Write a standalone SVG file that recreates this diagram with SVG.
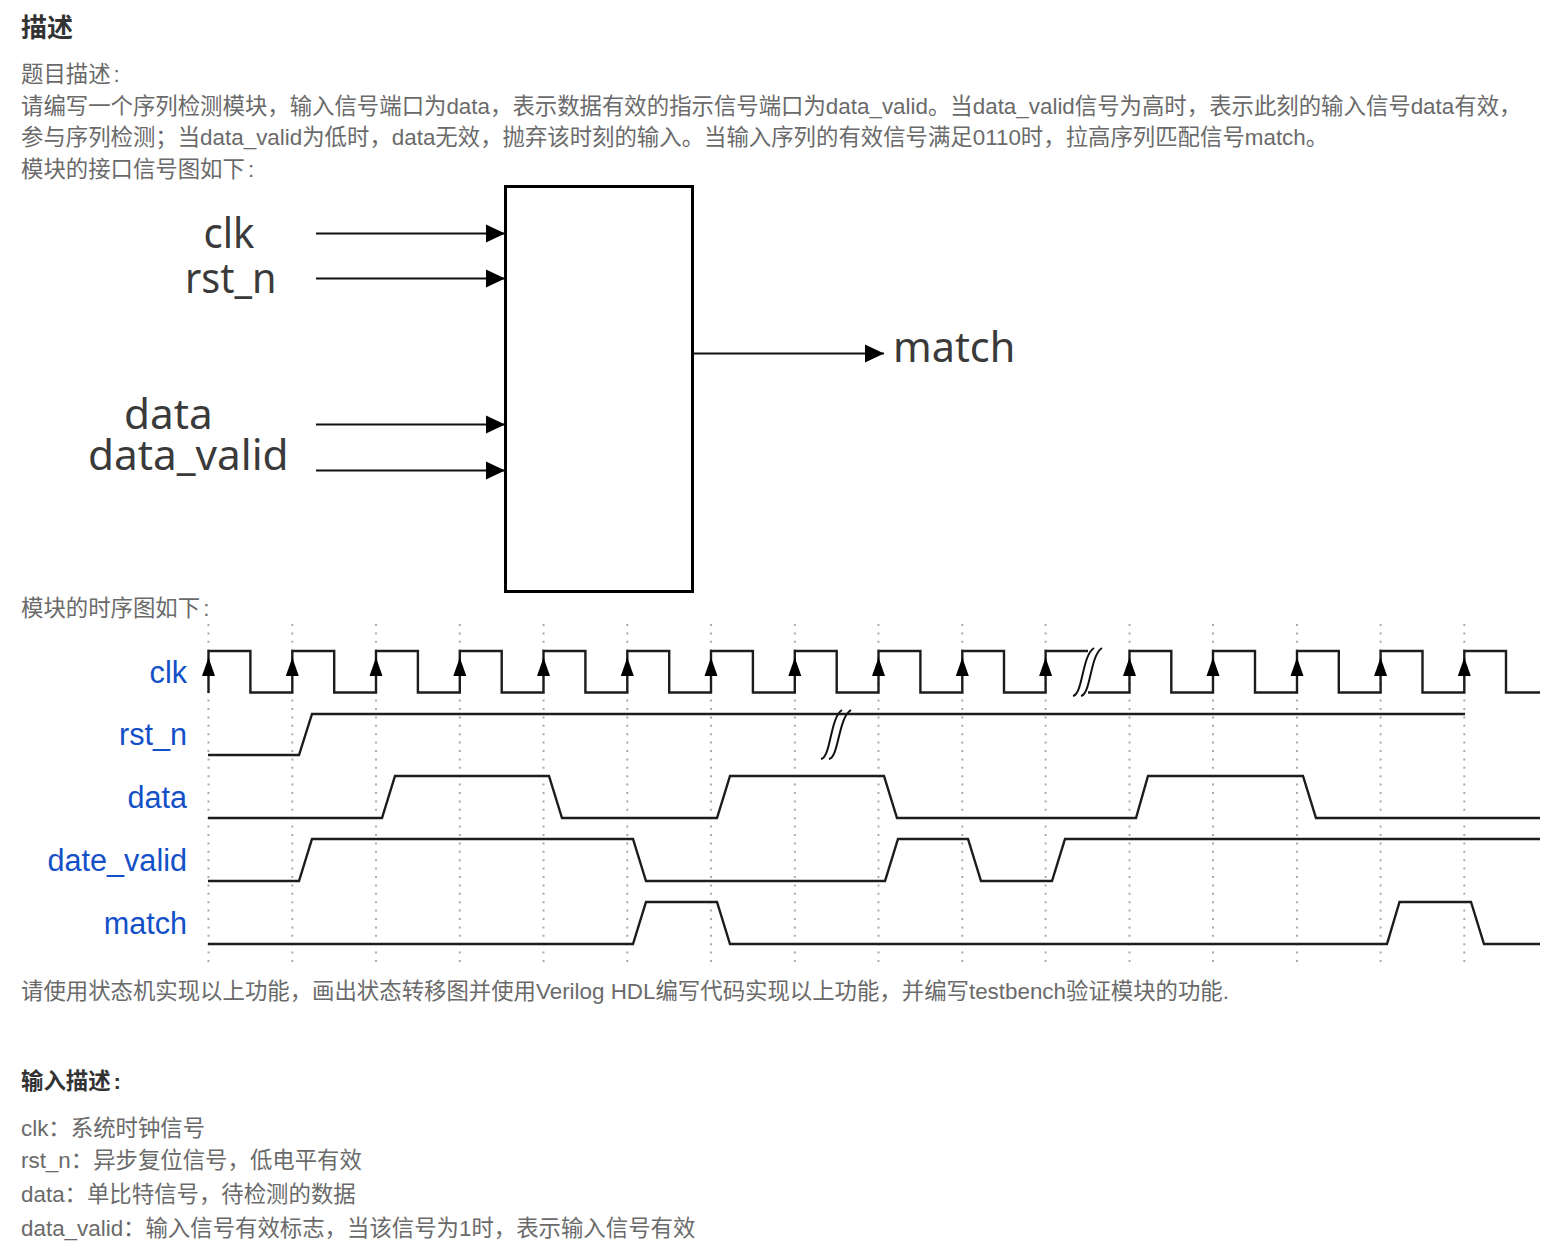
<svg xmlns="http://www.w3.org/2000/svg" width="1563" height="1251" viewBox="0 0 1563 1251">
<style>
text{font-family:"Liberation Sans","Noto Sans CJK SC",sans-serif}
.p{font-size:22.4px;fill:#6a6a6a}
.h{font-size:26px;font-weight:bold;fill:#333}
.b{font-size:22.4px;font-weight:bold;fill:#333}
.s{font-family:"Noto Sans","Open Sans",sans-serif;font-size:42.3px;fill:#3a3a3a}
.t{font-size:30.6px;fill:#1350c8;text-anchor:end}
.w{fill:none;stroke:#1c1c1c;stroke-width:2.4}
.g{fill:none;stroke:#aaa;stroke-width:2;stroke-dasharray:2 6.4}
.c{fill:none;stroke:#111;stroke-width:1.8}
.br{fill:none;stroke:#111;stroke-width:2}
</style>
<defs>
<marker id="ah" markerUnits="userSpaceOnUse" markerWidth="20" markerHeight="20" refX="19" refY="10" orient="auto"><path d="M0 1L19 10L0 19Z" fill="#000"/></marker>
<path id="up" d="M0 -18.500L6.500 0H-6.500Z" fill="#000"/>
</defs>
<rect width="1563" height="1251" fill="#fff"/>
<g id="text">
<text class="h" x="21" y="37">描述</text>
<text class="p" x="21" y="82">题目描述<tspan dx="3">:</tspan></text>
<text class="p" x="21" y="114">请编写一个序列检测模块，输入信号端口为data，表示数据有效的指示信号端口为data_valid。当data_valid信号为高时，表示此刻的输入信号data有效，</text>
<text class="p" x="21" y="145">参与序列检测；当data_valid为低时，data无效，抛弃该时刻的输入。当输入序列的有效信号满足0110时，拉高序列匹配信号match。</text>
<text class="p" x="21" y="177">模块的接口信号图如下<tspan dx="3">:</tspan></text>
<text class="p" x="21" y="616">模块的时序图如下<tspan dx="3">:</tspan></text>
<text class="p" x="21" y="999">请使用状态机实现以上功能，画出状态转移图并使用Verilog HDL编写代码实现以上功能，并编写testbench验证模块的功能.</text>
<text class="b" x="21" y="1089">输入描述<tspan dx="3">:</tspan></text>
<text class="p" x="21" y="1136">clk：系统时钟信号</text>
<text class="p" x="21" y="1168">rst_n：异步复位信号，低电平有效</text>
<text class="p" x="21" y="1202">data：单比特信号，待检测的数据</text>
<text class="p" x="21" y="1236">data_valid：输入信号有效标志，当该信号为1时，表示输入信号有效</text>
</g>
<g id="node-module"><rect x="505.500" y="186.500" width="187" height="405" fill="#fff" stroke="#000" stroke-width="3"/></g>
<g id="port-labels">
<text class="s" x="203.500" y="248" textLength="51" lengthAdjust="spacingAndGlyphs">clk</text>
<text class="s" x="185" y="293" textLength="91.500" lengthAdjust="spacingAndGlyphs">rst_n</text>
<text class="s" x="124" y="428.500">data</text>
<text class="s" x="88" y="470">data_valid</text>
<text class="s" x="893" y="361.500" style="font-size:41.400px">match</text>
</g>
<g id="connectors">
<path class="c" marker-end="url(#ah)" d="M316 233.500H505"/>
<path class="c" marker-end="url(#ah)" d="M316 278.500H505"/>
<path class="c" marker-end="url(#ah)" d="M316 424.500H505"/>
<path class="c" marker-end="url(#ah)" d="M316 470.500H505"/>
<path class="c" marker-end="url(#ah)" d="M693 353.500H884"/>
</g>
<g id="timing-grid">
<path class="g" d="M208.500 624V962M292.300 624V962M376 624V962M459.800 624V962M543.500 624V962M627.300 624V962M711 624V962M794.800 624V962M878.500 624V962M962.300 624V962M1045.600 624V962M1129.500 624V962M1213 624V962M1297 624V962M1380.600 624V962M1464.300 624V962"/>
</g>
<g id="timing-labels">
<text class="t" x="187" y="683">clk</text>
<text class="t" x="187" y="745">rst_n</text>
<text class="t" x="187" y="808">data</text>
<text class="t" x="187" y="871">date_valid</text>
<text class="t" x="187" y="934">match</text>
</g>
<g id="timing-waves">
<path class="w" id="wave-clk" d="M208.500 693V651H250.400V692.500H292.300V651H334.200V692.500H376V651H417.900V692.500H459.800V651H501.700V692.500H543.500V651H585.400V692.500H627.300V651H669.200V692.500H711V651H752.900V692.500H794.800V651H836.700V692.500H878.500V651H920.400V692.500H962.300V651H1004V692.500H1045.600V651H1088M1088 692.500H1129.500V651H1171.300V692.500H1213V651H1255V692.500H1297V651H1338.800V692.500H1380.600V651H1422.500V692.500H1464.300V651H1506V692.500H1540"/>
<path class="w" id="wave-rst" d="M208 755H299L312 714H1465"/>
<path class="w" id="wave-data" d="M208 818H382L395 776H549L562 818H717L730 776H884L897 818H1136L1148 776H1303L1316 818H1540"/>
<path class="w" id="wave-valid" d="M208 881H299L312 839H633L646 881H885L898 839H968L981 881H1052L1065 839H1540"/>
<path class="w" id="wave-match" d="M208 944H633L646 902H717L730 944H1387L1399.500 902H1471L1484 944H1540"/>
<g>
<use href="#up" x="208.500" y="676"/><use href="#up" x="292.300" y="676"/><use href="#up" x="376" y="676"/><use href="#up" x="459.800" y="676"/><use href="#up" x="543.500" y="676"/><use href="#up" x="627.300" y="676"/><use href="#up" x="711" y="676"/><use href="#up" x="794.800" y="676"/><use href="#up" x="878.500" y="676"/><use href="#up" x="962.300" y="676"/><use href="#up" x="1045.600" y="676"/><use href="#up" x="1129.500" y="676"/><use href="#up" x="1213" y="676"/><use href="#up" x="1297" y="676"/><use href="#up" x="1380.600" y="676"/><use href="#up" x="1464.300" y="676"/>
</g>
<path class="br" d="M1073 696C1083 694 1082 655 1094 648M1081 696C1091 694 1090 655 1102 648"/>
<path class="br" d="M821 759C831 757 830 718 842 710M829 759C839 757 838 718 851 710"/>
</g>
</svg>
